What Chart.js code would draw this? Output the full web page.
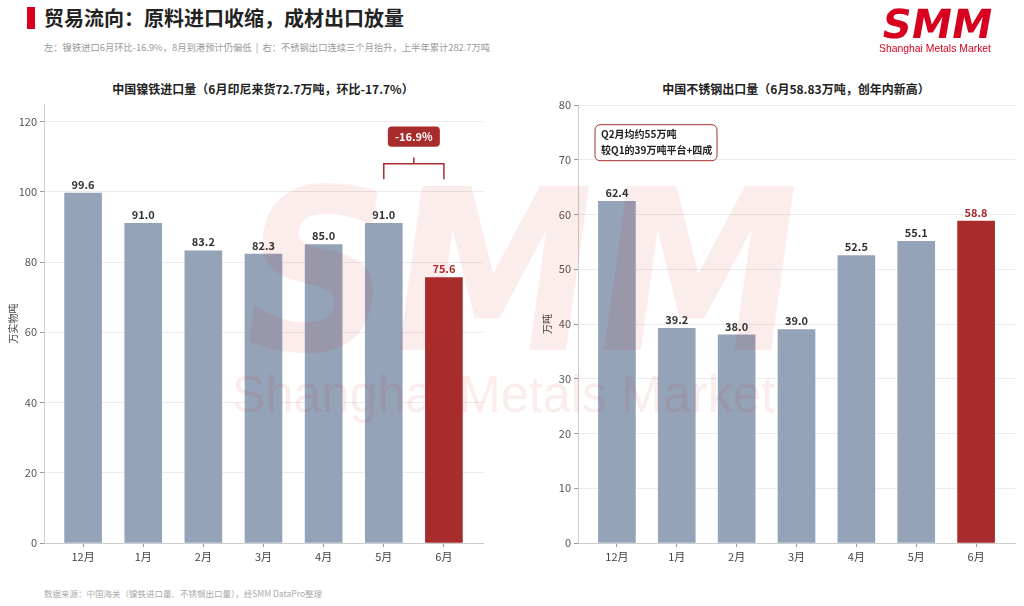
<!DOCTYPE html>
<html>
<head>
<meta charset="utf-8">
<script src="https://cdn.jsdelivr.net/npm/chart.js@4.4.1/dist/chart.umd.min.js"></script>
<style>
  html, body { margin: 0; padding: 0; background: #fff; }
  body { width: 1024px; height: 606px; position: relative; overflow: hidden; font-family: "Noto Sans CJK SC", "Noto Sans", sans-serif; }
  .abs { position: absolute; }
  #bar { left: 27px; top: 7px; width: 8px; height: 22px; background: #d7001e; }
  #title { left: 44px; top: 4px; font-size: 20px; font-weight: 700; color: #222; line-height: 28px; white-space: nowrap; }
  #subtitle { left: 44px; top: 40px; font-size: 9.3px; color: #9a9a9a; line-height: 14px; white-space: nowrap; }
  .ctitle { top: 80px; font-size: 12px; font-weight: 700; color: #222; line-height: 18px; white-space: nowrap; transform: translateX(-50%); }
  #footer { left: 44px; top: 586px; font-size: 8.5px; color: #aaa; line-height: 14px; white-space: nowrap; }
  #c1 { left: 0; top: 70px; }
  #c2 { left: 512px; top: 70px; }
  svg { position: absolute; left: 0; top: 0; pointer-events: none; }
</style>
</head>
<body>
<div class="abs" id="bar"></div>
<div class="abs" id="title">贸易流向：原料进口收缩，成材出口放量</div>
<div class="abs" id="subtitle">左：镍铁进口6月环比-16.9%，8月到港预计仍偏低 &nbsp;|&nbsp; 右：不锈钢出口连续三个月抬升，上半年累计282.7万吨</div>
<div class="abs ctitle" style="left:263px">中国镍铁进口量（6月印尼来货72.7万吨，环比-17.7%）</div>
<div class="abs ctitle" style="left:796px">中国不锈钢出口量（6月58.83万吨，创年内新高）</div>
<div class="abs" id="footer">数据来源：中国海关（镍铁进口量、不锈钢出口量），经SMM DataPro整理</div>

<div class="abs" id="c1" style="width:500px;height:497px"><canvas id="left"></canvas></div>
<div class="abs" id="c2" style="width:512px;height:497px"><canvas id="right"></canvas></div>

<svg width="1024" height="606">
  <g transform="translate(880,38) skewX(-10)">
    <text x="0" y="0" font-family="DejaVu Sans" font-weight="bold" font-size="40" fill="#d7001e" textLength="110" lengthAdjust="spacingAndGlyphs">SMM</text>
  </g>
  <text x="879" y="52" font-family="Liberation Sans" font-size="11" fill="#d7001e" textLength="112" lengthAdjust="spacingAndGlyphs">Shanghai Metals Market</text>
  <g transform="translate(232,350) skewX(-8)">
    <text x="0" y="0" font-family="DejaVu Sans" font-weight="bold" font-size="225" fill="rgba(220,30,30,0.08)" textLength="558" lengthAdjust="spacingAndGlyphs">SMM</text>
  </g>
  <text x="232" y="412" font-family="Liberation Sans" font-size="51" fill="rgba(220,30,30,0.08)" textLength="543" lengthAdjust="spacingAndGlyphs">Shanghai Metals Market</text>
</svg>

<script>
// data
const MONTHS = ['12月', '1月', '2月', '3月', '4月', '5月', '6月'];
const NPI_IMPORT = [99.6, 91.0, 83.2, 82.3, 85.0, 91.0, 75.6];   // 万实物吨
const SS_EXPORT = [62.4, 39.2, 38.0, 39.0, 52.5, 55.1, 58.8];     // 万吨
const LEFT_TICKS = [0, 20, 40, 60, 80, 100, 120];
const RIGHT_TICKS = [0, 10, 20, 30, 40, 50, 60, 70, 80];

const GREY = '#94a3b8';
const RED = '#a82c2c';
const FONT = '"Noto Sans CJK SC", "Noto Sans", sans-serif';

const barColors = arr => arr.map((v, i) => i === arr.length - 1 ? RED : GREY);

// value labels above bars
const valueLabels = {
  id: 'valueLabels',
  afterDatasetsDraw(chart) {
    const ctx = chart.ctx;
    const meta = chart.getDatasetMeta(0);
    const data = chart.data.datasets[0].data;
    ctx.save();
    ctx.font = 'bold 11px ' + FONT;
    ctx.textAlign = 'center';
    ctx.textBaseline = 'bottom';
    meta.data.forEach((bar, i) => {
      ctx.fillStyle = i === data.length - 1 ? RED : '#333';
      ctx.fillText(data[i].y.toFixed(1), bar.x, bar.y - 3);
    });
    ctx.restore();
  }
};

function roundRect(ctx, x, y, w, h, r) {
  ctx.beginPath();
  ctx.moveTo(x + r, y);
  ctx.arcTo(x + w, y, x + w, y + h, r);
  ctx.arcTo(x + w, y + h, x, y + h, r);
  ctx.arcTo(x, y + h, x, y, r);
  ctx.arcTo(x, y, x + w, y, r);
  ctx.closePath();
}

// bracket + -16.9% badge between May and June
const momBadge = {
  id: 'momBadge',
  afterDraw(chart) {
    const { ctx, scales: { x, y } } = chart;
    const x5 = x.getPixelForValue(5), x6 = x.getPixelForValue(6), xm = (x5 + x6) / 2;
    const yh = y.getPixelForValue(108), ye = y.getPixelForValue(103.6), yt = y.getPixelForValue(109.8);
    ctx.save();
    ctx.strokeStyle = RED;
    ctx.lineWidth = 1.5;
    ctx.beginPath();
    ctx.moveTo(x5, ye); ctx.lineTo(x5, yh); ctx.lineTo(x6, yh); ctx.lineTo(x6, ye);
    ctx.moveTo(xm, yh); ctx.lineTo(xm, yt);
    ctx.stroke();
    const top = y.getPixelForValue(118.6), bot = y.getPixelForValue(112.8);
    roundRect(ctx, xm - 26, top, 52, bot - top, 4);
    ctx.fillStyle = RED;
    ctx.fill();
    ctx.fillStyle = '#fff';
    ctx.font = 'bold 11px ' + FONT;
    ctx.textAlign = 'center';
    ctx.textBaseline = 'middle';
    ctx.fillText('-16.9%', xm, (top + bot) / 2 + 0.5);
    ctx.restore();
  }
};

// note box in the export chart
const noteBox = {
  id: 'noteBox',
  afterDraw(chart) {
    const { ctx, chartArea, scales: { y } } = chart;
    const left = chartArea.left + 17, top = y.getPixelForValue(76.4);
    ctx.save();
    roundRect(ctx, left, top, 122, 36, 5);
    ctx.fillStyle = '#fff';
    ctx.fill();
    ctx.strokeStyle = RED;
    ctx.lineWidth = 1;
    ctx.stroke();
    ctx.fillStyle = '#222';
    ctx.font = 'bold 10px ' + FONT;
    ctx.textAlign = 'left';
    ctx.textBaseline = 'middle';
    ctx.fillText('Q2月均约55万吨', left + 6, top + 9.5);
    ctx.fillText('较Q1的39万吨平台+四成', left + 6, top + 25);
    ctx.restore();
  }
};

function makeChart(id, values, yMax, yTicks, yTitle, padding, extra) {
  return new Chart(document.getElementById(id), {
    type: 'bar',
    data: {
      datasets: [{
        data: values.map((v, i) => ({ x: i, y: v })),
        backgroundColor: barColors(values),
        borderWidth: 0,
        barThickness: 37
      }]
    },
    options: {
      responsive: true,
      maintainAspectRatio: false,
      animation: false,
      layout: { padding },
      plugins: { legend: { display: false }, tooltip: { enabled: false } },
      scales: {
        x: {
          type: 'linear',
          min: -0.65,
          max: 6.65,
          offset: false,
          afterBuildTicks: s => { s.ticks = MONTHS.map((m, i) => ({ value: i })); },
          afterFit: s => { s.height = 24; },
          ticks: {
            callback: v => MONTHS[v],
            font: { family: FONT, size: 11 },
            color: '#444',
            padding: 3,
            maxRotation: 0,
            autoSkip: false
          },
          grid: { offset: false, drawOnChartArea: false, drawTicks: true, tickLength: 4, color: '#999' },
          border: { color: '#ccc' }
        },
        y: {
          min: 0,
          max: yMax,
          afterBuildTicks: s => { s.ticks = yTicks.map(v => ({ value: v })); },
          afterFit: s => { s.width = 44; },
          ticks: {
            font: { family: FONT, size: 11 },
            color: '#555',
            padding: 3
          },
          grid: { color: '#ebebeb', tickLength: 4, tickColor: '#999' },
          border: { color: '#ccc' },
          title: {
            display: true,
            text: yTitle,
            font: { family: FONT, size: 10 },
            color: '#444',
            padding: { top: 7, bottom: 2 }
          }
        }
      }
    },
    plugins: [valueLabels].concat(extra)
  });
}

makeChart('left', NPI_IMPORT, 125, LEFT_TICKS, '万实物吨', { left: 0, right: 17, top: 34, bottom: 0 }, [momBadge]);
makeChart('right', SS_EXPORT, 80, RIGHT_TICKS, '万吨', { left: 22, right: 9, top: 35, bottom: 0 }, [noteBox]);
</script>
</body>
</html>
